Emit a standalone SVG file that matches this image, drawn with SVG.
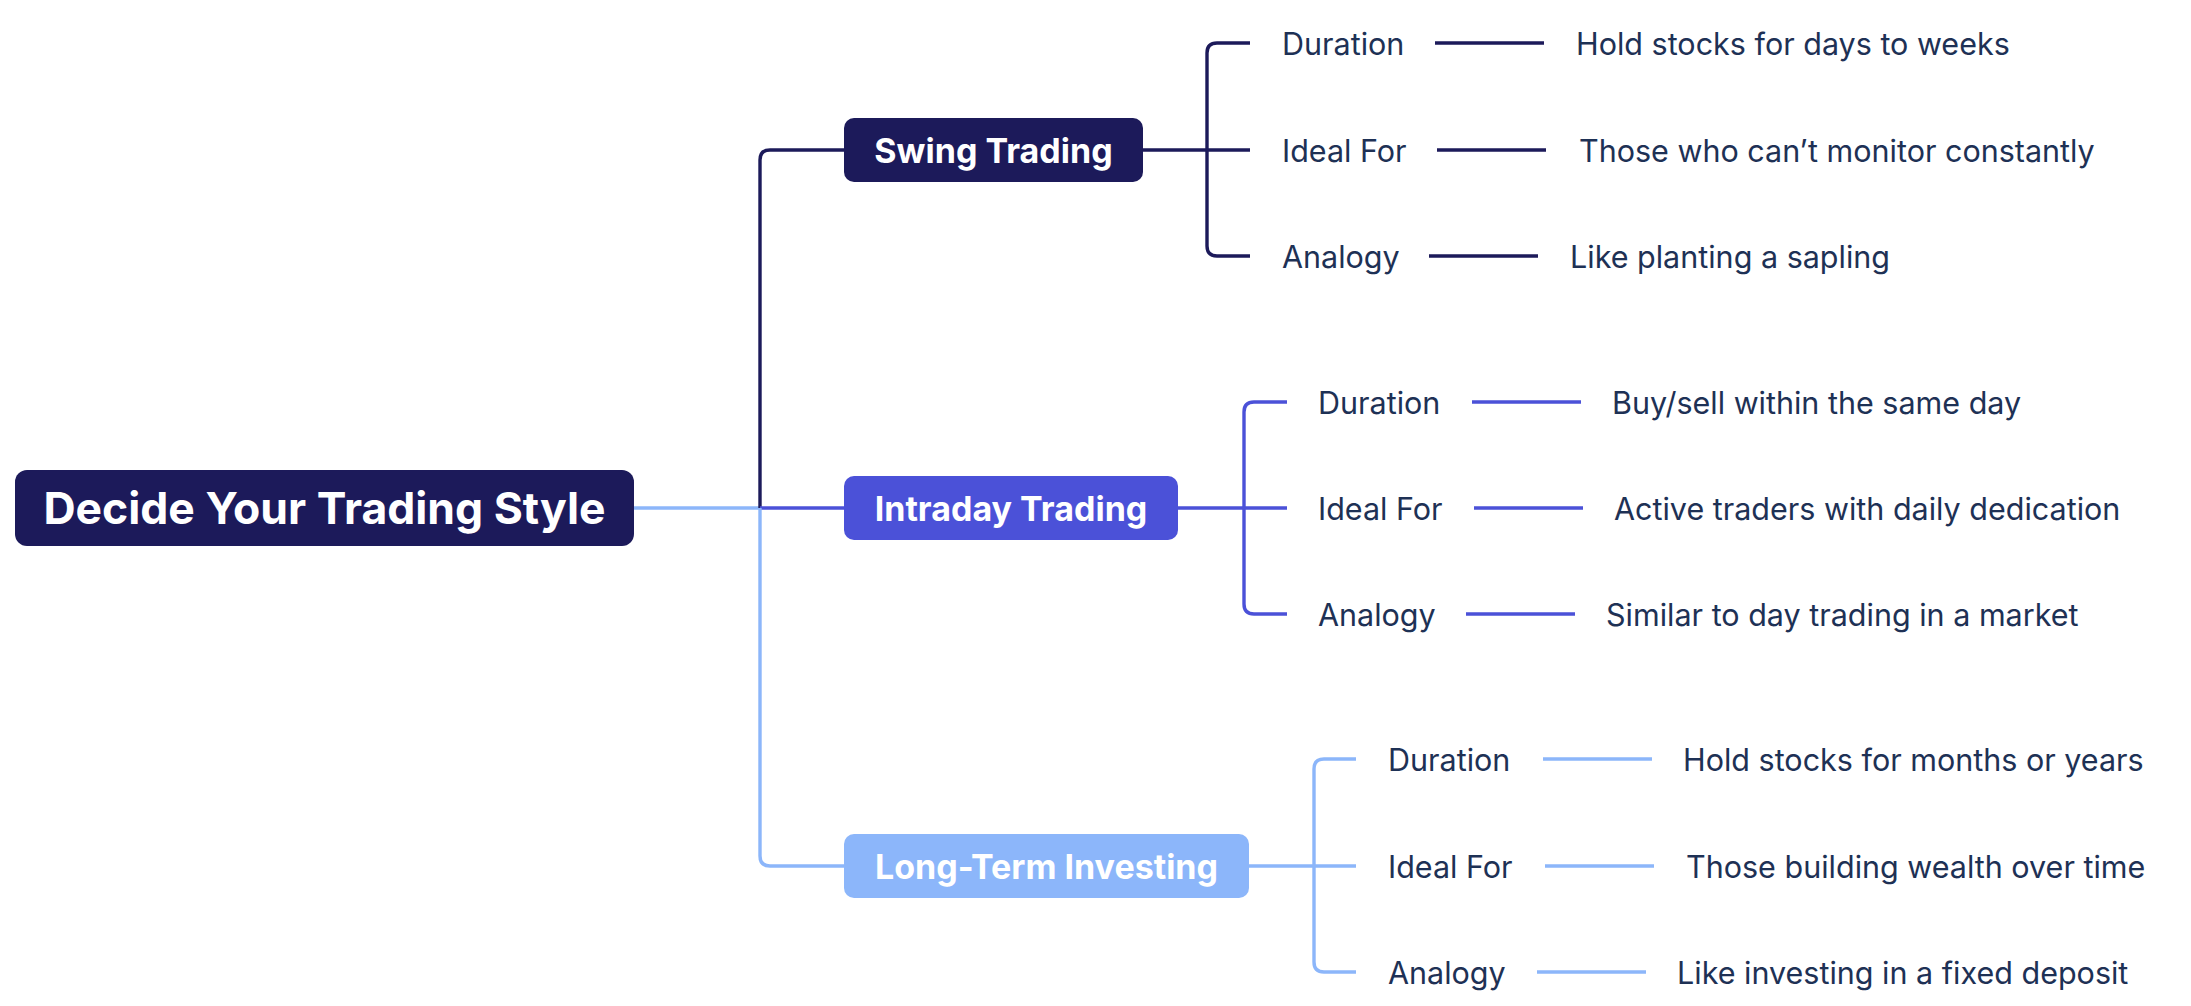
<svg xmlns="http://www.w3.org/2000/svg" width="2191" height="1006" viewBox="0 0 2191 1006">
<style>
.bg{fill:#ffffff}
.c{fill:none;stroke-width:3.4;stroke-linecap:butt;stroke-linejoin:round}
.dk{stroke:#1c1a5a}
.md{stroke:#4b51d8}
.lt{stroke:#8cb6fa}
.nt{font-family:Inter,"Noto Sans","Liberation Sans",sans-serif;font-weight:700;fill:#ffffff;text-anchor:middle;dominant-baseline:central}
.lb{font-family:Inter,"Noto Sans","Liberation Sans",sans-serif;font-weight:400;font-size:30.5px;fill:#1e3155;dominant-baseline:central}
</style>
<rect class="bg" x="0" y="0" width="2191" height="1006"/>
<g id="connectors">
<path class="c lt" d="M634,508 H760"/>
<path class="c dk" d="M760,508 V160 Q760,150 770,150 H844"/>
<path class="c md" d="M760,508 H844"/>
<path class="c lt" d="M760,508 V856 Q760,866 770,866 H844"/>
<path class="c dk" d="M1143,150 H1250 M1250,43 H1217 Q1207,43 1207,53 V246 Q1207,256 1217,256 H1250"/>
<path class="c dk" d="M1435,43 H1544 M1437,150 H1546 M1429,256 H1538"/>
<path class="c md" d="M1178,508 H1287 M1287,402 H1254 Q1244,402 1244,412 V604 Q1244,614 1254,614 H1287"/>
<path class="c md" d="M1472,402 H1581 M1474,508 H1583 M1466,614 H1575"/>
<path class="c lt" d="M1249,866 H1356 M1356,759 H1324 Q1314,759 1314,769 V962 Q1314,972 1324,972 H1356"/>
<path class="c lt" d="M1543,759 H1652 M1545,866 H1654 M1537,972 H1646"/>
</g>
<g id="root">
<rect x="15" y="470" width="619" height="76" rx="12" fill="#1c1a5a"/>
<text class="nt" x="324.5" y="508" font-size="44.5">Decide Your Trading Style</text>
</g>
<g id="swing">
<rect x="844" y="118" width="299" height="64" rx="10" fill="#1c1a5a"/>
<text class="nt" x="993.5" y="150" font-size="34">Swing Trading</text>
</g>
<g id="swing-duration"><text class="lb" x="1282" y="43">Duration</text></g>
<g id="swing-duration-value"><text class="lb" x="1576" y="43">Hold stocks for days to weeks</text></g>
<g id="swing-ideal"><text class="lb" x="1282" y="150">Ideal For</text></g>
<g id="swing-ideal-value"><text class="lb" x="1579" y="150">Those who can’t monitor constantly</text></g>
<g id="swing-analogy"><text class="lb" x="1282" y="256">Analogy</text></g>
<g id="swing-analogy-value"><text class="lb" x="1570" y="256">Like planting a sapling</text></g>
<g id="intraday">
<rect x="844" y="476" width="334" height="64" rx="10" fill="#4b51d8"/>
<text class="nt" x="1011" y="508" font-size="34">Intraday Trading</text>
</g>
<g id="intraday-duration"><text class="lb" x="1318" y="402">Duration</text></g>
<g id="intraday-duration-value"><text class="lb" x="1612" y="402">Buy/sell within the same day</text></g>
<g id="intraday-ideal"><text class="lb" x="1318" y="508">Ideal For</text></g>
<g id="intraday-ideal-value"><text class="lb" x="1614" y="508">Active traders with daily dedication</text></g>
<g id="intraday-analogy"><text class="lb" x="1318" y="614">Analogy</text></g>
<g id="intraday-analogy-value"><text class="lb" x="1606" y="614">Similar to day trading in a market</text></g>
<g id="longterm">
<rect x="844" y="834" width="405" height="64" rx="10" fill="#8cb6fa"/>
<text class="nt" x="1046.5" y="866" font-size="34">Long-Term Investing</text>
</g>
<g id="longterm-duration"><text class="lb" x="1388" y="759">Duration</text></g>
<g id="longterm-duration-value"><text class="lb" x="1683" y="759">Hold stocks for months or years</text></g>
<g id="longterm-ideal"><text class="lb" x="1388" y="866">Ideal For</text></g>
<g id="longterm-ideal-value"><text class="lb" x="1686" y="866">Those building wealth over time</text></g>
<g id="longterm-analogy"><text class="lb" x="1388" y="972">Analogy</text></g>
<g id="longterm-analogy-value"><text class="lb" x="1677" y="972">Like investing in a fixed deposit</text></g>
</svg>
